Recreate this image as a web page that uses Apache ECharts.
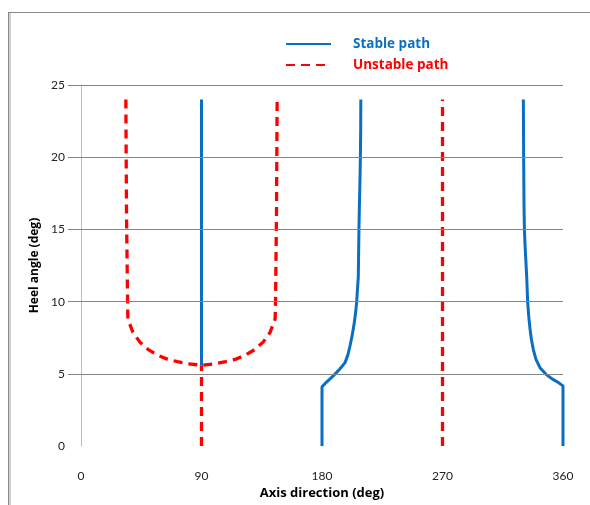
<!DOCTYPE html>
<html>
<head>
<meta charset="utf-8">
<script src="https://cdn.jsdelivr.net/npm/echarts@6/dist/echarts.min.js"></script>
<style>
html,body{margin:0;padding:0;background:#fff;}
#chart{width:590px;height:505px;}
</style>
</head>
<body>
<div id="chart"></div>
<script>
// Axis ticks
const xTicks = [0, 90, 180, 270, 360];
const yTicks = [5, 10, 15, 20, 25];

// Stable path segments [axis direction, heel angle]
const stableA = [[90, 5.6], [90, 24]];
const stableB = [[180, 0], [180, 4.1], [183, 4.4], [188.4, 4.86], [193, 5.3], [197.2, 5.78], [199.3, 6.3], [200.9, 6.93], [202.6, 7.7], [204.1, 8.54], [205.2, 9.3], [205.9, 10], [206.6, 11], [207.1, 11.7], [207.6, 15], [207.9, 16.5], [208.5, 19], [208.7, 20.3], [208.9, 22], [209, 24]];
const stableC = [[360, 0], [360, 4.17], [356.5, 4.4], [352.8, 4.6], [347.5, 4.95], [342.8, 5.43], [339.8, 6.0], [337.8, 6.7], [336.4, 7.4], [335.4, 8.08], [334.4, 9.0], [333.6, 10], [332.9, 11.7], [331.6, 14], [331.2, 15], [330.9, 16.5], [330.6, 20], [330.4, 24]];

// Unstable path segments
const unstableA = [[90, 0], [90, 5.6]];
const unstableB = [[33.5, 24], [34, 16], [34.8, 10], [35, 8.8], [38.8, 7.87], [44, 7.2], [50, 6.7], [57, 6.3], [65, 6.0], [72, 5.85], [80, 5.7], [90, 5.6], [100, 5.7], [108, 5.85], [115, 6.0], [123, 6.3], [130, 6.7], [136, 7.2], [141.2, 7.87], [145, 8.8], [145.3, 10], [146, 16], [146.5, 24]];
const unstableC = [[270, 0], [270, 24]];

const BLUE = '#0a6fc2';
const RED = '#ff0000';
const FONT = 'Lato';
const TFONT = 'Open Sans';

function stable(data) {
  return {
    name: 'Stable path', type: 'line', data: data, symbol: 'none', smooth: false,
    lineStyle: { color: BLUE, width: 3 }, itemStyle: { color: BLUE }, silent: true, z: 3
  };
}
function unstable(data) {
  return {
    name: 'Unstable path', type: 'line', data: data, symbol: 'none', smooth: false,
    lineStyle: { color: RED, width: 3.3, type: [9, 6] }, itemStyle: { color: RED }, silent: true, z: 2
  };
}

const gridSeries = {
  name: 'grid', type: 'line', data: [], silent: true, z: 1,
  markLine: {
    silent: true, symbol: 'none', animation: false,
    label: { show: false },
    lineStyle: { color: '#868686', width: 1, type: 'solid' },
    emphasis: { disabled: true },
    data: yTicks.map(function (v) { return { yAxis: v }; })
  }
};

const chart = echarts.init(document.getElementById('chart'), null, { renderer: 'canvas' });
chart.setOption({
  animation: false,
  backgroundColor: '#ffffff',
  textStyle: { fontFamily: FONT },
  graphic: [
    { type: 'line', shape: { x1: 8, y1: 12.5, x2: 590, y2: 12.5 }, style: { stroke: '#8a8a8a', lineWidth: 1 } },
    { type: 'line', shape: { x1: 8.5, y1: 12, x2: 8.5, y2: 505 }, style: { stroke: '#8a8a8a', lineWidth: 1 } },
    { type: 'line', shape: { x1: 10, y1: 13, x2: 10, y2: 505 }, style: { stroke: '#d0d0d0', lineWidth: 2 } }
  ],
  legend: {
    left: 285, top: 37, orient: 'vertical', itemWidth: 45, itemHeight: 14, itemGap: 7, padding: 0,
    itemStyle: { opacity: 0 },
    data: [
      { name: 'Stable path', textStyle: { color: BLUE } },
      { name: 'Unstable path', textStyle: { color: RED } }
    ],
    textStyle: { fontFamily: TFONT, fontSize: 13.5, fontWeight: 'bold', padding: [0, 0, 0, 17] }
  },
  grid: { left: 81, right: 27, top: 85, bottom: 58, containLabel: false },
  xAxis: {
    type: 'value', min: 0, max: 360, interval: 90,
    name: 'Axis direction (deg)', nameLocation: 'middle', nameGap: 38,
    nameTextStyle: { fontFamily: TFONT, fontSize: 13, fontWeight: 'bold', color: '#000' },
    axisLine: { show: false }, axisTick: { show: false }, splitLine: { show: false },
    axisLabel: { margin: 24, fontSize: 12, color: '#222', fontFamily: FONT, customValues: xTicks }
  },
  yAxis: {
    type: 'value', min: 0, max: 25, interval: 5,
    name: 'Heel angle (deg)', nameLocation: 'middle', nameGap: 40,
    nameTextStyle: { fontFamily: TFONT, fontSize: 12, fontWeight: 'bold', color: '#000' },
    axisLine: { show: true, lineStyle: { color: '#bdbdbd', width: 1 } },
    axisTick: { show: true, inside: false, length: 13, customValues: yTicks, lineStyle: { color: '#868686' } },
    splitLine: { show: false },
    axisLabel: { margin: 16, fontSize: 12, color: '#222', fontFamily: FONT }
  },
  series: [
    gridSeries,
    unstable(unstableA), unstable(unstableB), unstable(unstableC),
    stable(stableA), stable(stableB), stable(stableC)
  ]
});
</script>
</body>
</html>
